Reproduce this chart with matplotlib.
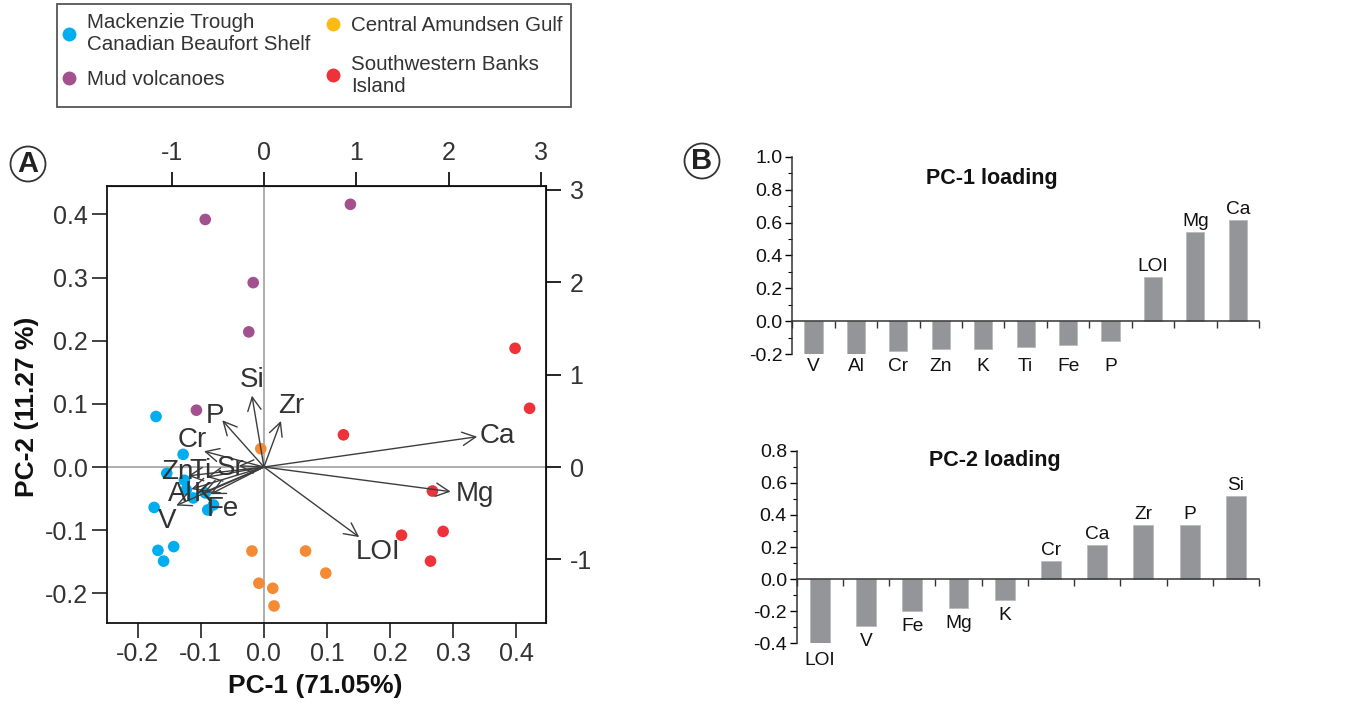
import matplotlib
matplotlib.use('Agg')
import matplotlib.pyplot as plt
from matplotlib.lines import Line2D
from matplotlib.patches import Rectangle
import numpy as np

plt.rcParams['font.family'] = ['Liberation Sans', 'DejaVu Sans']
plt.rcParams['axes.unicode_minus'] = False

# ---------------- data ----------------
group_names = ["Mackenzie Trough\nCanadian Beaufort Shelf", "Mud volcanoes",
               "Central Amundsen Gulf", "Southwestern Banks\nIsland"]

mack_x = [-0.171, -0.128, -0.154, -0.126, -0.123, -0.112, -0.093, -0.089, -0.080, -0.174, -0.168, -0.143, -0.159]
mack_y = [0.080, 0.020, -0.010, -0.021, -0.036, -0.049, -0.041, -0.068, -0.060, -0.064, -0.132, -0.126, -0.149]

mud_x = [-0.093, 0.137, -0.017, -0.024, -0.107]
mud_y = [0.392, 0.416, 0.292, 0.214, 0.090]

cag_x = [-0.005, -0.019, 0.066, 0.098, -0.008, 0.014, 0.016]
cag_y = [0.029, -0.133, -0.133, -0.168, -0.184, -0.192, -0.220]

swb_x = [0.398, 0.421, 0.126, 0.267, 0.218, 0.284, 0.264]
swb_y = [0.188, 0.093, 0.051, -0.038, -0.108, -0.102, -0.149]

# loading vectors (biplot arrow tips, PC-1 / PC-2 score scale)
vec_names = ["Si", "Zr", "P", "Cr", "Sr", "Ti", "Zn", "Al", "K", "Fe", "V", "Ca", "Mg", "LOI"]
vec_x = [-0.019, 0.027, -0.066, -0.095, -0.040, -0.090, -0.120, -0.115, -0.095, -0.085, -0.139, 0.338, 0.296, 0.151]
vec_y = [0.113, 0.073, 0.074, 0.025, 0.002, -0.016, -0.014, -0.035, -0.040, -0.043, -0.061, 0.048, -0.039, -0.111]

pc1_labels = ["V", "Al", "Cr", "Zn", "K", "Ti", "Fe", "P", "LOI", "Mg", "Ca"]
pc1_values = [-0.21, -0.20, -0.18, -0.17, -0.17, -0.155, -0.145, -0.12, 0.27, 0.54, 0.615]

pc2_labels = ["LOI", "V", "Fe", "Mg", "K", "Cr", "Ca", "Zr", "P", "Si"]
pc2_values = [-0.41, -0.29, -0.20, -0.18, -0.13, 0.11, 0.215, 0.34, 0.34, 0.515]

x_ticks = [-0.2, -0.1, 0.0, 0.1, 0.2, 0.3, 0.4]
y_ticks = [-0.2, -0.1, 0.0, 0.1, 0.2, 0.3, 0.4]
sec_ticks = [-1, 0, 1, 2, 3]

# ---------------- style ----------------
colors = ["#00AEEF", "#A3508F", "#F58A35", "#EE3239"]
legend_colors = ["#00AEEF", "#A3508F", "#FDBA12", "#EE3239"]
# label offsets (pixels) from arrow tips, same order as vec_names
label_off = [(0, 16), (10, 15), (-7, 4), (-12, 11), (-8, -2), (-7, 6), (-11, 4),
             (-11, -5), (-1, -2), (13, -15), (-9, -15), (20, 1), (24, -2), (19, -15)]
TXT = "#333333"
SCALE = 6.83
W, H = 1348, 713

fig = plt.figure(figsize=(W / 100, H / 100), dpi=100)

def fx(px):
    return px / W

def fy(py):
    return 1 - py / H

# ---------------- panel A: biplot ----------------
ax = fig.add_axes([fx(107), fy(623), fx(546) - fx(107), fy(186) - fy(623)])
ax.set_xlim(-0.2487, 0.447)
ax.set_ylim(-0.247, 0.445)
ax.axhline(0, color="#a8a8a8", lw=1.3, zorder=1)
ax.axvline(0, color="#a8a8a8", lw=1.3, zorder=1)

for gx, gy, c in [(mack_x, mack_y, colors[0]), (mud_x, mud_y, colors[1]),
                  (cag_x, cag_y, colors[2]), (swb_x, swb_y, colors[3])]:
    ax.scatter(gx, gy, s=70, color=c, edgecolors='none', zorder=3)

for name, vx, vy, off in zip(vec_names, vec_x, vec_y, label_off):
    ax.annotate("", xy=(vx, vy), xytext=(0, 0),
                arrowprops=dict(arrowstyle="->", color="#3d3d3d", lw=1.0,
                                mutation_scale=24, shrinkA=0, shrinkB=0),
                zorder=4)
    ax.annotate(name, xy=(vx, vy), xytext=off, textcoords="offset pixels",
                ha="center", va="center", fontsize=20, color=TXT, zorder=5)

ax.set_xticks(x_ticks)
ax.set_yticks(y_ticks)
ax.set_xticklabels([f"{t:.1f}" for t in x_ticks])
ax.set_yticklabels([f"{t:.1f}" for t in y_ticks])
ax.tick_params(axis='both', direction='out', length=11, width=1.2, labelsize=18,
               labelcolor=TXT, color="#222222", pad=3)
for s in ax.spines.values():
    s.set_linewidth(1.3)
    s.set_color("#111111")

secx = ax.secondary_xaxis('top', functions=(lambda v: v * SCALE, lambda v: v / SCALE))
secx.set_xticks(sec_ticks)
secx.set_xticklabels([str(t) for t in sec_ticks])
secx.tick_params(direction='out', length=10, width=1.2, labelsize=18, labelcolor=TXT, pad=5)
secy = ax.secondary_yaxis('right', functions=(lambda v: v * SCALE, lambda v: v / SCALE))
secy.set_yticks(sec_ticks)
secy.set_yticklabels([str(t) for t in sec_ticks])
secy.tick_params(direction='out', length=11, width=1.2, labelsize=18, labelcolor=TXT, pad=6)

fig.text(fx(315), fy(686), "PC-1 (71.05%)", ha="center", va="center",
         fontsize=19, fontweight="bold", color="#111111")
fig.text(fx(27), fy(407), "PC-2 (11.27 %)", ha="center", va="center",
         rotation=90, fontsize=19, fontweight="bold", color="#111111")

# legend: frame + two columns
fig.patches.append(Rectangle((fx(57), fy(107)), fx(571) - fx(57), fy(4) - fy(107),
                             transform=fig.transFigure, facecolor="white",
                             edgecolor="#555555", linewidth=1.3, zorder=0))
handles = [Line2D([], [], marker='o', linestyle='none', markersize=10,
                  markerfacecolor=c, markeredgecolor='none') for c in legend_colors]
leg_common = dict(loc='upper left', fontsize=14.8, frameon=False, handlelength=0.8,
                  handletextpad=0.45, borderaxespad=0, borderpad=0, labelcolor=TXT)
leg1 = fig.legend([handles[0], handles[1]], [group_names[0], group_names[1]],
                  bbox_to_anchor=(fx(61), fy(13)), labelspacing=0.8, **leg_common)
leg2 = fig.legend([handles[2], handles[3]], [group_names[2], group_names[3]],
                  bbox_to_anchor=(fx(325), fy(16)), labelspacing=0.95, **leg_common)

# panel letters
for letter, px, py in [("A", 28, 164), ("B", 702, 161)]:
    fig.text(fx(px), fy(py), letter, ha="center", va="center", fontsize=21,
             fontweight="bold", color="#222222",
             bbox=dict(boxstyle="circle,pad=0.12", fc="white", ec="#333333", lw=1.3))

# ---------------- panel B: loadings ----------------
def loading_panel(rect, labels, values, ylim, title, title_xy, neg_floor, neg_off):
    bx = fig.add_axes(rect)
    n = len(values)
    xs = np.arange(n)
    bx.bar(xs, values, width=0.43, color="#949598", edgecolor="#b9babb", linewidth=0.6, zorder=2)
    bx.set_xlim(-0.5, n - 0.5)
    bx.set_ylim(*ylim)
    bx.spines['top'].set_visible(False)
    bx.spines['right'].set_visible(False)
    bx.spines['bottom'].set_position(('data', 0))
    for s in ['left', 'bottom']:
        bx.spines[s].set_linewidth(1.1)
        bx.spines[s].set_color("#333333")
    bx.set_xticks(np.arange(n + 1) - 0.5)
    bx.set_xticklabels([])
    bx.tick_params(axis='x', direction='out', length=5, width=1.0, color="#333333")
    yt = np.round(np.arange(ylim[0], ylim[1] + 1e-9, 0.2), 1)
    bx.set_yticks(yt)
    bx.set_yticklabels([f"{t:.1f}" for t in yt])
    bx.set_yticks(np.round(np.arange(ylim[0], ylim[1] + 1e-9, 0.1), 1), minor=True)
    bx.tick_params(axis='y', which='major', direction='out', length=5, width=1.0,
                   labelsize=14, labelcolor="#111111", pad=2)
    bx.tick_params(axis='y', which='minor', direction='out', length=3, width=0.8)
    for x, v, lab in zip(xs, values, labels):
        if v >= 0:
            bx.annotate(lab, xy=(x, v), xytext=(0, 2), textcoords="offset pixels",
                        ha="center", va="bottom", fontsize=13.8, color="#111111",
                        annotation_clip=False)
        else:
            yv = min(v, neg_floor) if neg_floor is not None else v
            bx.annotate(lab, xy=(x, yv), xytext=(0, -neg_off), textcoords="offset pixels",
                        ha="center", va="top", fontsize=13.8, color="#111111",
                        annotation_clip=False)
    bx.text(title_xy[0], title_xy[1], title, transform=bx.transAxes, ha="center",
            va="center", fontsize=15.5, fontweight="bold", color="#111111")
    return bx

loading_panel([fx(792.3), fy(354.3), fx(1259) - fx(792.3), fy(156.7) - fy(354.3)],
              pc1_labels, pc1_values, (-0.2, 1.0), "PC-1 loading", (0.427, 0.892),
              -0.21, 2)
loading_panel([fx(796.7), fy(643.3), fx(1259) - fx(796.7), fy(450.7) - fy(643.3)],
              pc2_labels, pc2_values, (-0.4, 0.8), "PC-2 loading", (0.429, 0.947),
              None, 7)

fig.savefig("out.png", dpi=100, facecolor="white")
